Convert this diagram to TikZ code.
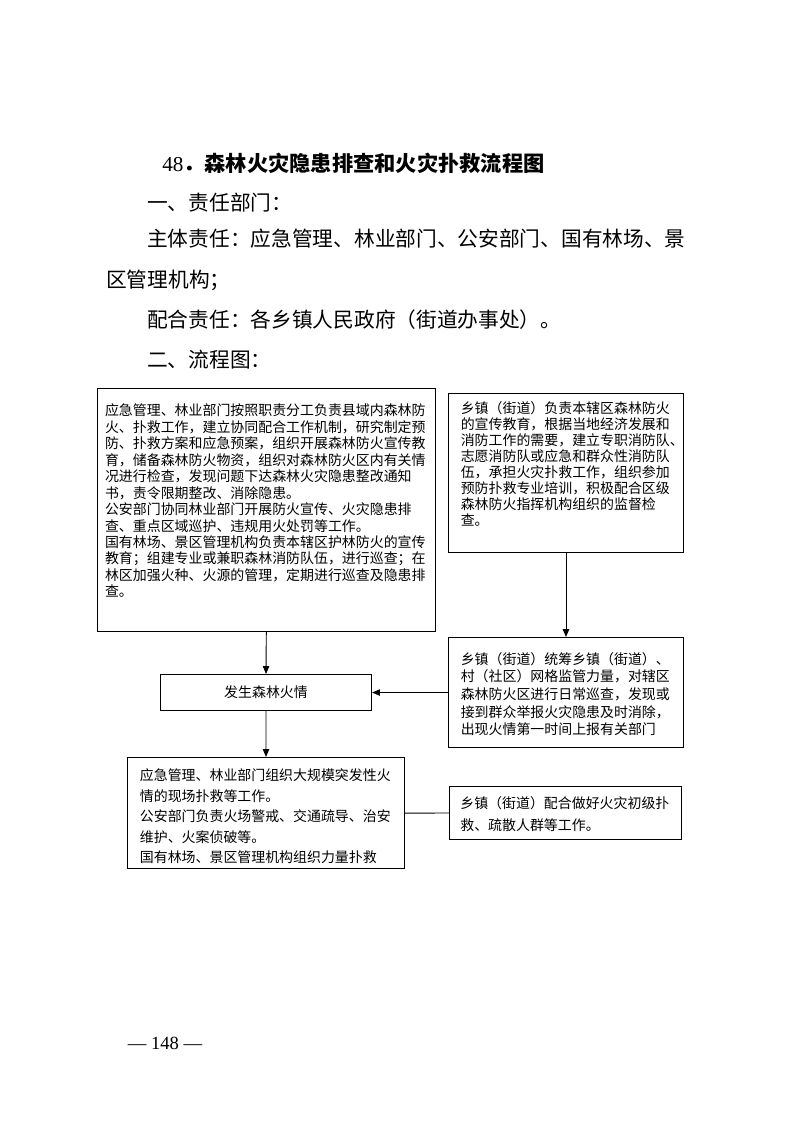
\documentclass[tikz,border=0pt]{standalone}
\usepackage{fontspec}
\setmainfont{Noto Sans CJK SC}
\newfontfamily\numfont{Liberation Serif}
\usetikzlibrary{arrows.meta}

\newcommand{\boxfont}[1]{\fontsize{10.5pt}{#1}\selectfont}

\begin{document}
\begin{tikzpicture}[x=0.2648mm, y=-0.2648mm,
    panel/.style={draw, line width=0.8pt, anchor=north west, align=left, inner ysep=0pt},
    flow/.style={-{Triangle[length=2.1mm, width=1.7mm]}, line width=0.7pt},
    link/.style={line width=0.7pt},
    heading/.style={anchor=west, inner sep=0pt, font=\fontsize{16pt}{19pt}\selectfont\bfseries},
    para/.style={anchor=west, inner sep=0pt, font=\fontsize{15.6pt}{18pt}\selectfont},
    folio/.style={inner sep=0pt, font=\numfont\fontsize{14pt}{16pt}\selectfont}]
    \useasboundingbox (0,0) rectangle (793,1122);

    % Heading
    \node[heading] (title) at (162,163) {{\numfont\mdseries 48}．森林火灾隐患排查和火灾扑救流程图};
    \node[para] (dept) at (147,203) {一、责任部门：};
    \node[para] (main) at (147,239) {主体责任：应急管理、林业部门、公安部门、国有林场、景};
    \node[para] (mainb) at (106,280) {区管理机构；};
    \node[para] (coop) at (147,320) {配合责任：各乡镇人民政府（街道办事处）。};
    \node[para] (chart) at (147,360) {二、流程图：};

    % Boxes
    \node[panel, text width=85.4mm, inner xsep=1.99mm, text height=7.23mm, text depth=57.1mm,
          font=\boxfont{12.4pt}] (plan) at (97,388) {应急管理、林业部门按照职责分工负责县域内森林防\\
火、扑救工作，建立协同配合工作机制，研究制定预\\
防、扑救方案和应急预案，组织开展森林防火宣传教\\
育，储备森林防火物资，组织对森林防火区内有关情\\
况进行检查，发现问题下达森林火灾隐患整改通知\\
书，责令限期整改、消除隐患。\\
公安部门协同林业部门开展防火宣传、火灾隐患排\\
查、重点区域巡护、违规用火处罚等工作。\\
国有林场、景区管理机构负责本辖区护林防火的宣传\\
教育；组建专业或兼职森林消防队伍，进行巡查；在\\
林区加强火种、火源的管理，定期进行巡查及隐患排\\
查。};
    \node[panel, text width=55.7mm, inner xsep=3.25mm, text height=5.38mm, text depth=36.7mm,
          font=\boxfont{12.0pt}] (town) at (448,393) {乡镇（街道）负责本辖区森林防火\\
的宣传教育，根据当地经济发展和\\
消防工作的需要，建立专职消防队、\\
志愿消防队或应急和群众性消防队\\
伍，承担火灾扑救工作，组织参加\\
预防扑救专业培训，积极配合区级\\
森林防火指挥机构组织的监督检\\
查。};
    \node[panel, text width=55.7mm, inner xsep=3.25mm, text height=7.04mm, text depth=22.08mm,
          font=\boxfont{13.3pt}] (grid) at (448,637) {乡镇（街道）统筹乡镇（街道）、\\
村（社区）网格监管力量，对辖区\\
森林防火区进行日常巡查，发现或\\
接到群众举报火灾隐患及时消除，\\
出现火情第一时间上报有关部门};
    \node[panel, align=center, inner sep=0pt, minimum width=55.87mm, minimum height=9.53mm,
          font=\boxfont{12pt}] (fire) at (160,674) {发生森林火情};
    \node[panel, text width=66.8mm, inner xsep=3.27mm, text height=6.17mm, text depth=23.22mm,
          font=\boxfont{15.4pt}] (rescue) at (127,757) {应急管理、林业部门组织大规模突发性火\\
情的现场扑救等工作。\\
公安部门负责火场警戒、交通疏导、治安\\
维护、火案侦破等。\\
国有林场、景区管理机构组织力量扑救};
    \node[panel, text width=55.7mm, inner xsep=2.87mm, text height=5.9mm, text depth=8.13mm,
          font=\boxfont{16.5pt}] (assist) at (449,786) {乡镇（街道）配合做好火灾初级扑\\
救、疏散人群等工作。};

    % Connectors
    \draw[flow] (plan.south) -- (fire.north);
    \draw[flow] (fire.south) -- (rescue.north);
    \draw[flow] (town.south) -- (grid.north);
    \draw[flow] (grid.west) -- (fire.east);
    \draw[link] (rescue.east) -- (assist.west);

    % Page number
    \node[folio] (page) at (165,1043) {— 148 —};
\end{tikzpicture}
\end{document}
